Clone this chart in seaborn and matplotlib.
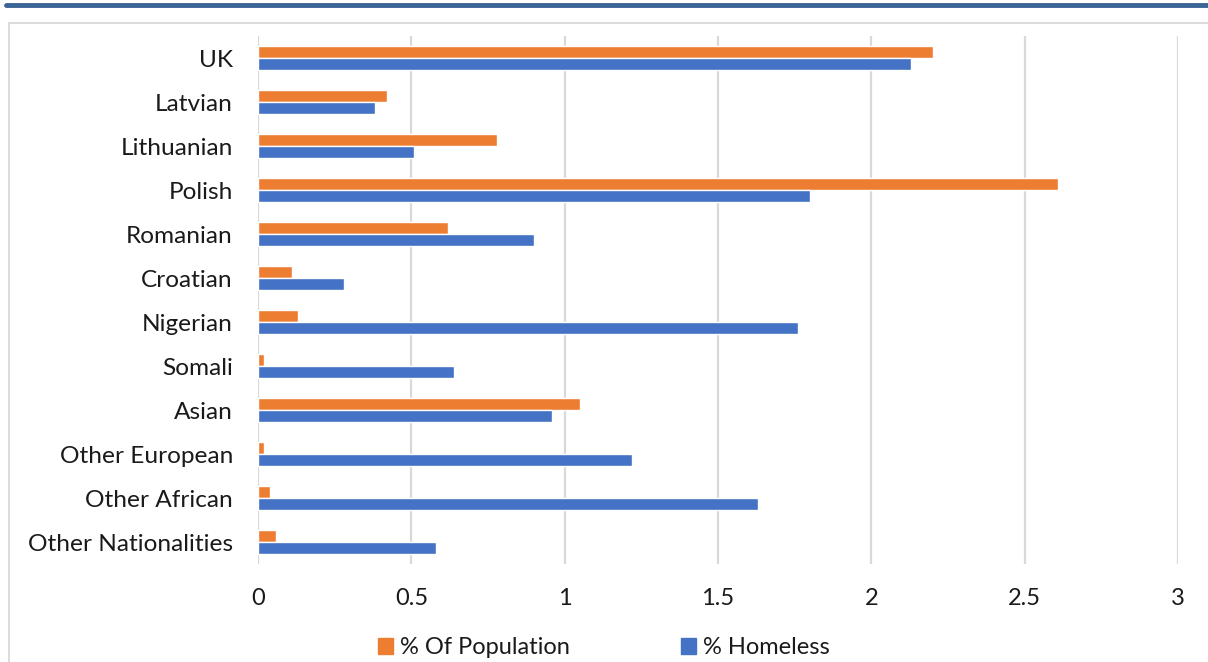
import matplotlib
matplotlib.use("Agg")
import matplotlib.pyplot as plt
import matplotlib.patches as mpatches
from matplotlib.lines import Line2D
import seaborn as sns
import pandas as pd

categories = ["UK", "Latvian", "Lithuanian", "Polish", "Romanian", "Croatian",
              "Nigerian", "Somali", "Asian", "Other European", "Other African",
              "Other Nationalities"]
pct_population = [2.20, 0.42, 0.78, 2.61, 0.62, 0.11, 0.13, 0.02, 1.05, 0.02, 0.04, 0.06]
pct_homeless = [2.13, 0.38, 0.51, 1.80, 0.90, 0.28, 1.76, 0.64, 0.96, 1.22, 1.63, 0.58]
series_names = ["% Of Population", "% Homeless"]
x_ticks = [0, 0.5, 1, 1.5, 2, 2.5, 3]
x_tick_labels = ["0", "0.5", "1", "1.5", "2", "2.5", "3"]

df = pd.DataFrame({
    "Nationality": categories * 2,
    "Series": [series_names[0]] * len(categories) + [series_names[1]] * len(categories),
    "Value": pct_population + pct_homeless,
})

sns.set_theme(style="white")
plt.rcParams["font.family"] = ["Lato", "DejaVu Sans"]

colors = {"% Of Population": "#ED7D31", "% Homeless": "#4472C4"}
text_color = "#1a1a1a"

fig = plt.figure(figsize=(12.08, 6.62), dpi=100)
ax = fig.add_axes([258 / 1208, 1 - 564 / 662, 920 / 1208, 528 / 662])

sns.barplot(data=df, y="Nationality", x="Value", hue="Series",
            hue_order=series_names, order=categories, palette=colors,
            orient="h", width=0.55, gap=0, saturation=1, ax=ax, legend=False)

ax.set_xlim(0, 3)
ax.set_xticks(x_ticks)
ax.set_xticklabels(x_tick_labels)
ax.set_xlabel("")
ax.set_ylabel("")
ax.grid(axis="x", color="#d9d9d9", linewidth=1.6)
ax.set_axisbelow(True)
for s in ax.spines.values():
    s.set_visible(False)
ax.tick_params(axis="x", length=0, pad=17, labelsize=17, colors=text_color)
ax.tick_params(axis="y", length=0, pad=18, labelsize=17.6, colors=text_color)

# Legend below the plot
handles = [mpatches.Patch(color=colors[n], label=n) for n in series_names]
fig.legend(handles=handles, loc="center", bbox_to_anchor=(604 / 1208, 1 - 648 / 662),
           ncol=2, frameon=False, fontsize=17, handlelength=0.65, handleheight=0.65,
           handletextpad=0.3, columnspacing=4.7, labelcolor=text_color)

# Chart frame and top rule
fig.patches.append(mpatches.Rectangle((9 / 1208, -0.05), 1.2, 1 - 23 / 662 + 0.05,
                                      transform=fig.transFigure, fill=False,
                                      edgecolor="#d9d9d9", linewidth=1.3))
fig.lines.append(Line2D([6 / 1208, 1], [1 - 5 / 662] * 2, transform=fig.transFigure,
                        color="#3a6496", linewidth=3.5))

fig.savefig("out.png", dpi=100)
